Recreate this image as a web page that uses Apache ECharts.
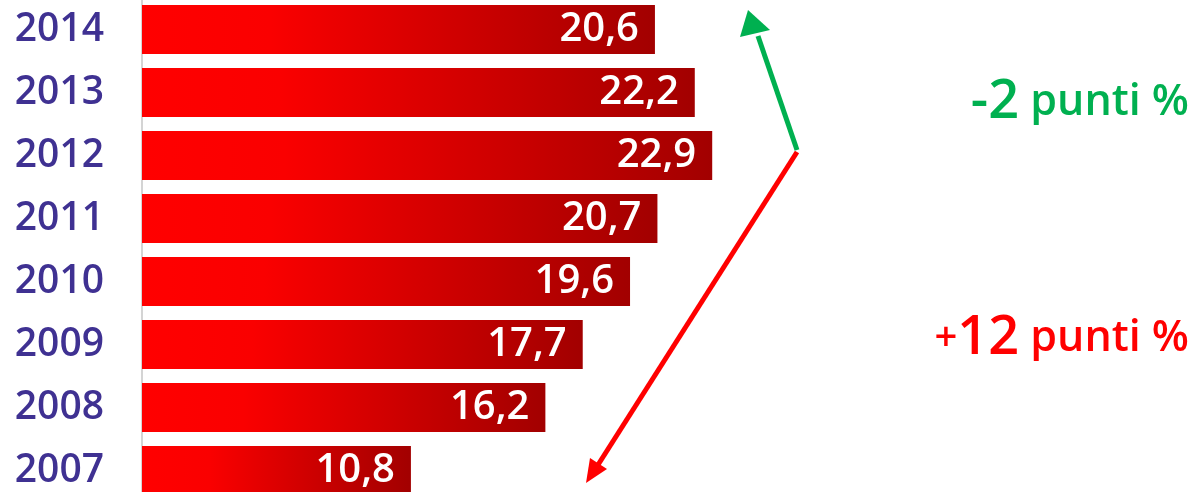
<!DOCTYPE html>
<html><head><meta charset="utf-8">
<script src="https://cdn.jsdelivr.net/npm/echarts@6/dist/echarts.min.js"></script>
<style>html,body{margin:0;padding:0;background:#fff}#c{width:1197px;height:492px}</style>
</head><body><div id="c"></div>
<script>
const years = ['2014','2013','2012','2011','2010','2009','2008','2007'];
const values = [20.6, 22.2, 22.9, 20.7, 19.6, 17.7, 16.2, 10.8];
const noteDown = '-2';
const noteUp = '+12';
const noteUnit = ' punti %';

const chart = echarts.init(document.getElementById('c'));
const barGrad = new echarts.graphic.LinearGradient(0, 0, 1, 0, [
  {offset: 0, color: '#ff0000'},
  {offset: 0.25, color: '#fa0000'},
  {offset: 1, color: '#a20000'}
]);
const FONT = 'Open Sans';
const G = '#00b050', R = '#ff0000';
chart.setOption({
  animation: false,
  backgroundColor: '#ffffff',
  grid: {left: 142, width: 996, top: -2, height: 504, containLabel: false, outerBoundsMode: 'none'},
  xAxis: {type: 'value', min: 0, max: 40, show: false},
  yAxis: {
    type: 'category', data: years, inverse: true,
    axisLine: {show: true, lineStyle: {color: '#d4d4d4', width: 2}},
    axisTick: {show: false},
    axisLabel: {color: '#3f3192', fontSize: 39, fontFamily: FONT, fontWeight: 600, margin: 38, align: 'right'}
  },
  series: [{
    type: 'bar', data: values, barWidth: 49,
    itemStyle: {color: barGrad},
    label: {
      show: true, position: 'insideRight', distance: 16,
      color: '#ffffff', fontSize: 40, fontFamily: FONT, fontWeight: 600,
      formatter: p => String(p.value).replace('.', ',')
    }
  }],
  graphic: [
    {type: 'line', shape: {x1: 797, y1: 150, x2: 758, y2: 36}, style: {stroke: G, lineWidth: 5}},
    {type: 'polygon', shape: {points: [[748, 10], [740, 37], [770, 30]]}, style: {fill: G}},
    {type: 'line', shape: {x1: 797, y1: 152, x2: 596, y2: 468}, style: {stroke: R, lineWidth: 5}},
    {type: 'polygon', shape: {points: [[586, 483], [590, 458], [607, 469]]}, style: {fill: R}},
    {type: 'text', right: 8, top: 76, style: {
      text: '{b|' + noteDown + '}{s|' + noteUnit + '}',
      rich: {
        b: {fontSize: 54, fontFamily: FONT, fontWeight: 600, fill: G},
        s: {fontSize: 43, fontFamily: FONT, fontWeight: 600, fill: G}
      }
    }},
    {type: 'text', right: 8, top: 312, style: {
      text: '{p|+}{b|12}{s|' + noteUnit + '}',
      rich: {
        p: {fontSize: 40, fontFamily: FONT, fontWeight: 600, fill: R},
        b: {fontSize: 54, fontFamily: FONT, fontWeight: 600, fill: R},
        s: {fontSize: 43, fontFamily: FONT, fontWeight: 600, fill: R}
      }
    }}
  ]
});
</script></body></html>
